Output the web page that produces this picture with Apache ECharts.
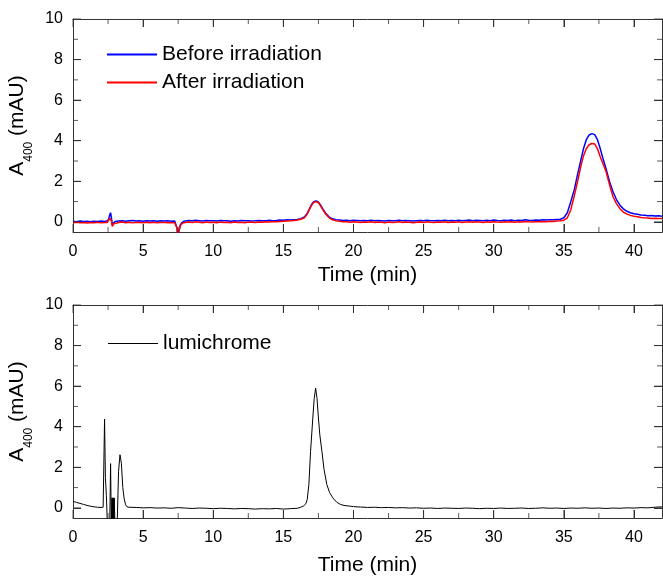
<!DOCTYPE html>
<html><head><meta charset="utf-8">
<script src="https://cdn.jsdelivr.net/npm/echarts@6/dist/echarts.min.js"></script>
<style>html,body{margin:0;padding:0;background:#fff}#c{width:663px;height:580px}</style>
</head><body><div id="c"></div>
<script>
// ---------- data ----------
const topTime = [
  0,0.25,0.5,0.75,1,1.25,1.5,1.75,2,2.25,
  2.45,2.55,2.62,2.68,2.74,2.8,2.9,3,
  3.25,3.5,3.75,4,4.25,4.5,4.75,5,5.25,5.5,5.75,6,6.25,6.5,6.75,7,7.25,
  7.35,7.42,7.47,7.52,7.58,7.65,7.75,7.9,8,
  8.25,8.5,8.75,9,9.25,9.5,9.75,10,10.25,10.5,10.75,11,11.25,11.5,11.75,12,12.25,12.5,12.75,13,13.25,13.5,13.75,14,14.25,14.5,14.75,15,15.25,15.5,15.75,16,
  16.25,16.5,16.7,16.85,17,17.15,17.3,17.45,17.6,17.8,18,18.3,18.5,18.75,
  19,19.25,19.5,19.75,20,20.25,20.5,20.75,21,21.25,21.5,21.75,22,22.25,22.5,22.75,
  23,23.25,23.5,23.75,24,24.25,24.5,24.75,25,25.25,25.5,25.75,26,26.25,26.5,26.75,
  27,27.25,27.5,27.75,28,28.25,28.5,28.75,29,29.25,29.5,29.75,30,30.25,30.5,30.75,
  31,31.25,31.5,31.75,32,32.25,32.5,32.75,33,33.25,33.5,33.75,34,34.25,34.5,34.75,
  35,35.25,35.5,35.75,36,36.2,36.4,36.6,36.8,37,37.1,37.2,37.4,37.6,37.8,38,38.25,38.5,38.75,39,39.25,39.5,39.75,
  40,40.25,40.5,40.75,41,41.25,41.5,41.75,42
];
const beforeAbs = [
  0.03,0.01,0.04,0.02,0.03,0.0,0.03,0.02,0.04,0.02,
  0.05,0.15,0.35,0.45,0.2,-0.12,-0.05,0.02,
  0.04,0.06,0.03,0.05,0.07,0.04,0.05,0.03,0.06,0.04,0.05,0.03,0.06,0.04,0.05,0.03,0.04,
  0.0,-0.3,-0.8,-0.8,-0.35,-0.15,-0.05,0.03,0.06,
  0.07,0.05,0.08,0.06,0.04,0.07,0.05,0.06,0.04,0.07,0.05,0.06,0.03,0.06,0.04,0.07,0.05,0.06,0.04,0.05,0.07,0.05,0.06,0.08,0.06,0.07,0.09,0.08,0.1,0.09,0.11,0.12,
  0.16,0.24,0.42,0.63,0.84,0.98,1.03,1.0,0.88,0.65,0.44,0.22,0.15,0.11,
  0.09,0.07,0.08,0.06,0.08,0.07,0.05,0.07,0.06,0.08,0.05,0.07,0.06,0.04,0.07,0.05,
  0.06,0.08,0.05,0.07,0.06,0.04,0.06,0.07,0.05,0.08,0.06,0.05,0.07,0.06,0.08,0.05,
  0.07,0.06,0.08,0.05,0.07,0.09,0.06,0.08,0.07,0.05,0.08,0.06,0.09,0.07,0.06,0.08,
  0.07,0.09,0.06,0.08,0.07,0.1,0.08,0.07,0.09,0.08,0.1,0.09,0.11,0.1,0.12,0.13,
  0.2,0.45,1.0,1.6,2.4,3.0,3.6,4.05,4.28,4.35,4.36,4.3,4.05,3.6,3.1,2.65,2.0,1.5,1.1,0.82,0.64,0.52,0.45,
  0.4,0.37,0.34,0.33,0.3,0.31,0.29,0.3,0.28
];
const afterAbs = [
  -0.04,-0.02,-0.05,-0.03,-0.06,-0.03,-0.04,-0.02,-0.05,-0.03,
  -0.03,0.05,0.18,0.2,0.05,-0.22,-0.1,-0.04,
  -0.03,-0.01,-0.04,-0.02,-0.05,-0.02,-0.03,-0.05,-0.02,-0.04,-0.02,-0.05,-0.03,-0.02,-0.04,-0.03,-0.05,
  -0.06,-0.3,-0.8,-0.8,-0.4,-0.2,-0.1,-0.04,-0.02,
  -0.01,-0.03,0.0,-0.02,-0.04,-0.01,-0.03,-0.02,-0.04,-0.01,-0.03,-0.02,-0.04,-0.01,-0.03,-0.02,-0.04,-0.01,-0.02,-0.03,-0.01,-0.02,0.0,-0.01,0.01,0.0,0.02,0.03,0.04,0.05,0.07,0.09,
  0.13,0.2,0.38,0.6,0.8,0.95,1.0,0.97,0.85,0.62,0.4,0.18,0.1,0.06,
  0.03,0.01,0.0,-0.02,0.0,-0.01,-0.03,-0.01,-0.02,0.0,-0.03,-0.01,-0.02,-0.04,-0.01,-0.03,
  -0.02,0.0,-0.03,-0.01,-0.02,-0.04,-0.02,-0.01,-0.03,0.0,-0.02,-0.03,-0.01,-0.02,0.0,-0.03,
  -0.01,-0.02,0.0,-0.03,-0.01,0.01,-0.02,0.0,-0.01,-0.03,0.0,-0.02,0.01,-0.01,-0.02,0.0,
  -0.01,0.01,-0.02,0.0,-0.01,0.02,0.0,-0.01,0.01,0.0,0.02,0.01,0.03,0.02,0.04,0.05,
  0.08,0.2,0.6,1.3,2.05,2.7,3.25,3.6,3.8,3.86,3.87,3.84,3.6,3.2,2.85,2.5,1.85,1.25,0.9,0.65,0.48,0.38,0.32,
  0.28,0.25,0.22,0.2,0.19,0.17,0.18,0.16,0.17
];
const lumiTime = [
  0,0.25,0.5,0.75,1,1.25,1.5,1.75,2,2.15,
  2.2,2.25,2.31,2.38,2.45,2.62,2.68,2.73,
  2.78,2.8,2.82,2.84,2.86,2.88,2.9,2.92,2.94,
  2.99,3.15,3.25,3.35,3.45,3.55,3.65,3.75,3.85,4,
  4.5,5,5.5,6,6.5,7,7.5,8,8.5,9,9.5,10,10.5,11,11.5,12,12.5,13,13.5,14,14.5,15,15.5,16,
  16.2,16.45,16.6,16.7,16.82,16.94,17.1,17.2,17.3,17.4,17.5,17.6,17.75,17.9,18.1,18.3,18.53,18.8,19.1,19.4,19.8,20,
  20.5,21,21.5,22,22.5,23,23.5,24,24.5,25,25.5,26,26.5,27,27.5,28,28.5,29,29.5,30,30.5,31,
  31.5,32,32.5,33,33.5,34,34.5,35,35.5,36,36.5,37,37.5,38,38.5,39,39.5,40,40.5,41,41.5,42
];
const lumiAbs = [
  0.32,0.27,0.22,0.17,0.12,0.08,0.05,0.03,0.02,0.03,
  0.05,4.38,1.5,0.6,-0.8,-0.8,2.18,-0.8,
  0.49,-0.8,0.49,-0.8,0.49,-0.8,0.49,-0.8,0.49,
  -0.8,-0.8,1.8,2.62,2.2,1.0,0.45,0.15,0.05,0.03,
  0.02,0.0,0.01,-0.01,0.0,-0.02,0.01,-0.01,-0.03,-0.01,-0.02,-0.04,-0.02,-0.03,-0.05,-0.03,-0.04,-0.06,-0.04,-0.05,-0.03,-0.06,-0.04,-0.02,
  0.02,0.1,0.2,0.4,1.15,2.78,4.43,5.4,5.9,5.4,4.43,3.6,2.78,1.9,1.15,0.75,0.49,0.28,0.16,0.11,0.08,0.06,
  0.04,0.02,0.03,0.01,0.02,0.0,0.01,-0.01,0.0,-0.02,-0.01,-0.03,-0.01,-0.02,-0.03,-0.01,-0.02,-0.04,-0.02,-0.03,-0.01,-0.03,
  -0.02,-0.01,-0.03,-0.02,0.0,-0.02,-0.01,-0.03,-0.01,-0.02,0.0,-0.02,-0.01,-0.03,-0.01,-0.02,0.0,-0.01,0.01,0.0,0.03,0.05
];
const xMajorTicks = [0,5,10,15,20,25,30,35,40];
const xMinorTicks = [2.5,7.5,12.5,17.5,22.5,27.5,32.5,37.5];
const yMajorTicks = [0,2,4,6,8,10];
const yMinorTicks = [1,3,5,7,9];
const seriesNames = ['Before irradiation','After irradiation','lumichrome'];

// ---------- chart ----------
const FONT = '"Liberation Sans", Arial, Helvetica, sans-serif';
const AX = '#333';
const X_MIN = 0, X_MAX = 42, Y_MIN = -0.5, Y_MAX = 10;
const pairs = (xs, ys) => xs.map((t, i) => [t, ys[i]]);

function xAxis(g, pos, extra) {
  return Object.assign({type:'value', gridIndex:g, position:pos, min:X_MIN, max:X_MAX, interval:5,
    splitLine:{show:false},
    axisLine:{show:true, onZero:false, lineStyle:{color:AX, width:1}},
    axisTick:{show:true, inside:true, length:8, customValues:xMajorTicks},
    axisLabel:{show:false}}, extra || {});
}
function yAxis(g, pos, extra) {
  return Object.assign({type:'value', gridIndex:g, position:pos, min:Y_MIN, max:Y_MAX, splitNumber:5,
    splitLine:{show:false},
    axisLine:{show:true, onZero:false, lineStyle:{color:AX, width:1}},
    axisTick:{show:true, inside:true, length:8, customValues:yMajorTicks},
    axisLabel:{show:false}}, extra || {});
}
const xLabel = (margin) => ({show:true, customValues:xMajorTicks, margin:margin, fontSize:16, color:'#000', fontFamily:FONT});
const yLabel = {show:true, customValues:yMajorTicks, margin:10, fontSize:16, color:'#000', fontFamily:FONT};
const yName = {
  name:'{a|A}{s|400}{a| (mAU)}', nameLocation:'middle', nameGap:18, nameRotate:90,
  nameTextStyle:{fontSize:21, color:'#000', fontFamily:FONT,
    rich:{
      a:{fontSize:21, color:'#000', fontFamily:FONT, lineHeight:28, verticalAlign:'top'},
      s:{fontSize:12, color:'#000', fontFamily:FONT, lineHeight:12, verticalAlign:'bottom'}
    }}
};
const xName = (gap) => ({name:'Time (min)', nameLocation:'middle', nameGap:gap,
  nameTextStyle:{fontSize:21, color:'#000', fontFamily:FONT}});

// inward tick marks along the frame, placed through the axes' own scales
function tickMarks(axisIdx, values, side, len) {
  let data, size, offset;
  if (side === 'bottom') { data = values.map(v => [v, Y_MIN]); size = [1, len]; offset = [0, -len / 2]; }
  else if (side === 'top') { data = values.map(v => [v, Y_MAX]); size = [1, len]; offset = [0, len / 2]; }
  else if (side === 'left') { data = values.map(v => [X_MIN, v]); size = [len, 1]; offset = [len / 2, 0]; }
  else { data = values.map(v => [X_MAX, v]); size = [len, 1]; offset = [-len / 2, 0]; }
  return {type:'scatter', xAxisIndex:axisIdx, yAxisIndex:axisIdx, data:data, symbol:'rect',
    symbolSize:size, symbolOffset:offset, itemStyle:{color:AX}, silent:true, clip:false, z:3};
}
function frameTicks(axisIdx) {
  return [
    tickMarks(axisIdx, xMajorTicks, 'bottom', 8), tickMarks(axisIdx, xMinorTicks, 'bottom', 5),
    tickMarks(axisIdx, xMajorTicks, 'top', 8), tickMarks(axisIdx, xMinorTicks, 'top', 5),
    tickMarks(axisIdx, yMajorTicks, 'left', 8), tickMarks(axisIdx, yMinorTicks, 'left', 5),
    tickMarks(axisIdx, yMajorTicks, 'right', 8), tickMarks(axisIdx, yMinorTicks, 'right', 5)
  ];
}

const chart = echarts.init(document.getElementById('c'));
chart.setOption({
  animation:false,
  grid:[
    {left:73, top:19, width:589, height:213, containLabel:false, outerBoundsMode:'none'},
    {left:73, top:305, width:589, height:213, containLabel:false, outerBoundsMode:'none'}
  ],
  xAxis:[
    xAxis(0, 'bottom', Object.assign({axisLabel:xLabel(12)}, xName(33))),
    xAxis(0, 'top'),
    xAxis(1, 'bottom', Object.assign({axisLabel:xLabel(12)}, xName(37))),
    xAxis(1, 'top')
  ],
  yAxis:[
    yAxis(0, 'left', Object.assign({axisLabel:yLabel}, yName)),
    yAxis(0, 'right'),
    yAxis(1, 'left', Object.assign({axisLabel:yLabel}, yName)),
    yAxis(1, 'right')
  ],
  legend:[
    {data:[seriesNames[0], seriesNames[1]], orient:'vertical', left:107, top:44, padding:0,
     icon:'path://M0,0H50V2H0Z', itemWidth:50, itemHeight:2, itemGap:7, selectedMode:false,
     textStyle:{fontSize:21, lineHeight:20, color:'#000', fontFamily:FONT}},
    {data:[seriesNames[2]], orient:'vertical', left:108, top:333, padding:0,
     icon:'path://M0,0H50V1H0Z', itemWidth:50, itemHeight:1, selectedMode:false,
     textStyle:{fontSize:21, lineHeight:20, color:'#000', fontFamily:FONT}}
  ],
  series:[
    {type:'line', name:seriesNames[0], xAxisIndex:0, yAxisIndex:0, data:pairs(topTime, beforeAbs),
     symbol:'none', lineStyle:{color:'#0000ff', width:1.5}, itemStyle:{color:'#0000ff'}},
    {type:'line', name:seriesNames[1], xAxisIndex:0, yAxisIndex:0, data:pairs(topTime, afterAbs),
     symbol:'none', lineStyle:{color:'#ff0000', width:1.5}, itemStyle:{color:'#ff0000'}},
    {type:'line', name:seriesNames[2], xAxisIndex:2, yAxisIndex:2, data:pairs(lumiTime, lumiAbs),
     symbol:'none', lineStyle:{color:'#000', width:1}, itemStyle:{color:'#000'}}
  ].concat(frameTicks(0), frameTicks(2))
});
</script>
</body></html>
